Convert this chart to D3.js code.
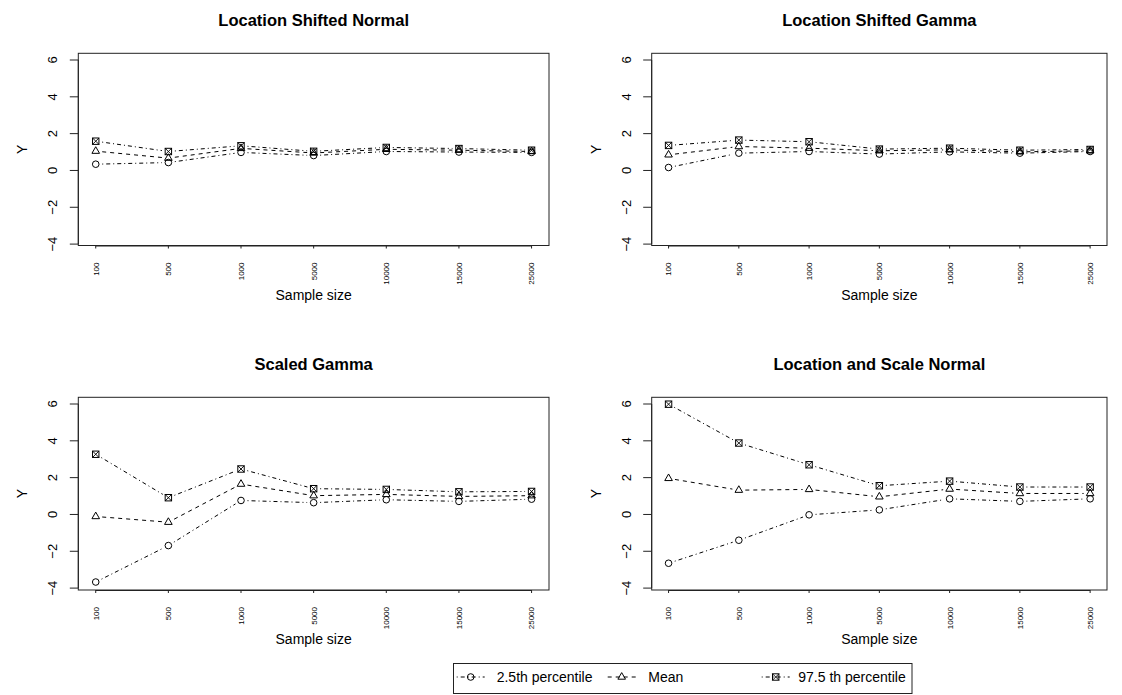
<!DOCTYPE html>
<html>
<head>
<meta charset="utf-8">
<script src="https://cdn.jsdelivr.net/npm/d3@7"></script>
<style>
  body { margin: 0; background: #fff; }
  svg { display: block; font-family: "Liberation Sans", Arial, sans-serif; }
  .box { fill: none; stroke: #222; stroke-width: 1; }
  .tick-line { stroke: #222; stroke-width: 1; }
</style>
</head>
<body>
<div id="chart"></div>
<script>
const W = 1122, H = 695

// x categories (sample sizes)
const sampleSizes = ['100', '500', '1000', '5000', '10000', '15000', '25000']
const yTicks = [-4, -2, 0, 2, 4, 6]

const panelTitles = ['Location Shifted Normal', 'Location Shifted Gamma', 'Scaled Gamma', 'Location and Scale Normal']

// values
const shiftNormalLow  = [0.34, 0.43, 0.98, 0.81, 1.03, 1.00, 0.98]
const shiftNormalMean = [1.05, 0.67, 1.20, 0.95, 1.15, 1.10, 1.03]
const shiftNormalHigh = [1.59, 1.03, 1.34, 1.04, 1.25, 1.19, 1.10]

const shiftGammaLow  = [0.16, 0.94, 1.03, 0.89, 1.01, 0.94, 1.03]
const shiftGammaMean = [0.85, 1.30, 1.21, 1.07, 1.12, 1.01, 1.07]
const shiftGammaHigh = [1.36, 1.65, 1.56, 1.16, 1.21, 1.10, 1.14]

const scaledGammaLow  = [-3.67, -1.69, 0.76, 0.64, 0.80, 0.71, 0.83]
const scaledGammaMean = [-0.11, -0.42, 1.65, 1.02, 1.09, 0.98, 1.02]
const scaledGammaHigh = [3.27, 0.91, 2.47, 1.40, 1.36, 1.23, 1.25]

const locScaleLow  = [-2.65, -1.40, -0.02, 0.25, 0.85, 0.71, 0.85]
const locScaleMean = [1.96, 1.32, 1.36, 0.96, 1.38, 1.14, 1.14]
const locScaleHigh = [5.99, 3.88, 2.70, 1.56, 1.81, 1.49, 1.49]

const seriesNames = ['2.5th percentile', 'Mean', '97.5 th percentile']

const panelData = [
	[shiftNormalLow, shiftNormalMean, shiftNormalHigh],
	[shiftGammaLow, shiftGammaMean, shiftGammaHigh],
	[scaledGammaLow, scaledGammaMean, scaledGammaHigh],
	[locScaleLow, locScaleMean, locScaleHigh]
]

// layout of the 4 plot boxes
const boxes = [
	{ left: 78.3, right: 549, top: 53.3, bottom: 245.5 },
	{ left: 651.7, right: 1107, top: 53.3, bottom: 245.5 },
	{ left: 78.3, right: 549, top: 397.3, bottom: 590 },
	{ left: 651.7, right: 1107, top: 397.3, bottom: 590 }
]

const lineDash = ['1,3,4,3', '4,4', '1,3,4,3']
const GAP = 6.5

const svg = d3.select('#chart').append('svg')
	.attr('width', W)
	.attr('height', H)

function drawSymbol(g, kind, x, y) {
	if (kind == 0) {
		g.append('circle')
			.attr('cx', x).attr('cy', y).attr('r', 3.3)
			.attr('fill', 'none').attr('stroke', '#000').attr('stroke-width', 1)
	} else if (kind == 1) {
		let r = 4.4
		let pts = [[x, y - r], [x + r * Math.sqrt(3) / 2, y + r / 2], [x - r * Math.sqrt(3) / 2, y + r / 2]]
		g.append('polygon')
			.attr('points', pts.map(p => p.join(',')).join(' '))
			.attr('fill', 'none').attr('stroke', '#000').attr('stroke-width', 1)
	} else {
		let s = 3.2
		g.append('rect')
			.attr('x', x - s).attr('y', y - s).attr('width', 2 * s).attr('height', 2 * s)
			.attr('fill', 'none').attr('stroke', '#000').attr('stroke-width', 1)
		g.append('path')
			.attr('d', `M${x - s},${y - s}L${x + s},${y + s}M${x + s},${y - s}L${x - s},${y + s}`)
			.attr('fill', 'none').attr('stroke', '#000').attr('stroke-width', 0.9)
	}
}

boxes.forEach((b, pi) => {
	let g = svg.append('g').attr('id', 'panel_' + pi)

	let x = d3.scalePoint()
		.domain(sampleSizes)
		.range([b.left, b.right])
		.padding(0.24)

	let y = d3.scaleLinear()
		.domain([-4, 6])
		.range([b.top + 190.8, b.top + 6.7])

	// title
	g.append('text')
		.attr('x', (b.left + b.right) / 2)
		.attr('y', b.top - 27.6)
		.attr('text-anchor', 'middle')
		.attr('font-weight', 'bold')
		.attr('font-size', 16.5)
		.text(panelTitles[pi])

	// y axis: ticks + rotated labels
	let ya = g.append('g')
	ya.append('line').attr('class', 'tick-line')
		.attr('x1', b.left).attr('x2', b.left)
		.attr('y1', y(-4)).attr('y2', y(6))
	yTicks.forEach(t => {
		ya.append('line').attr('class', 'tick-line')
			.attr('x1', b.left - 8.5).attr('x2', b.left)
			.attr('y1', y(t)).attr('y2', y(t))
		ya.append('text')
			.attr('transform', `translate(${b.left - 21},${y(t)}) rotate(-90)`)
			.attr('text-anchor', 'middle')
			.attr('font-size', 13)
			.text(t < 0 ? '\u2212' + Math.abs(t) : t)
	})
	g.append('text')
		.attr('transform', `translate(${b.left - 51},${(b.top + b.bottom) / 2}) rotate(-90)`)
		.attr('text-anchor', 'middle')
		.attr('font-size', 14)
		.text('Y')

	// x axis: short ticks + vertical labels
	let xa = g.append('g')
	xa.append('line').attr('class', 'tick-line')
		.attr('x1', x(sampleSizes[0])).attr('x2', x(sampleSizes[sampleSizes.length - 1]))
		.attr('y1', b.bottom + 0.5).attr('y2', b.bottom + 0.5)
	sampleSizes.forEach(s => {
		xa.append('line').attr('class', 'tick-line')
			.attr('x1', x(s)).attr('x2', x(s))
			.attr('y1', b.bottom).attr('y2', b.bottom + 3)
		xa.append('text')
			.attr('transform', `translate(${x(s) + 2.9},${b.bottom + 17}) rotate(-90)`)
			.attr('text-anchor', 'end')
			.attr('font-size', 8)
			.text(s)
	})
	g.append('text')
		.attr('x', (b.left + b.right) / 2)
		.attr('y', b.bottom + 54)
		.attr('text-anchor', 'middle')
		.attr('font-size', 14)
		.text('Sample size')

	// plot box
	g.append('rect').attr('class', 'box')
		.attr('x', b.left).attr('y', b.top)
		.attr('width', b.right - b.left).attr('height', b.bottom - b.top)

	// series: type "b" (segments with gaps round the points)
	panelData[pi].forEach((vals, si) => {
		let pts = vals.map((v, i) => [x(sampleSizes[i]), y(v)])
		let lg = g.append('g')
		for (let i = 0; i < pts.length - 1; i++) {
			let [x1, y1] = pts[i], [x2, y2] = pts[i + 1]
			let d = Math.hypot(x2 - x1, y2 - y1)
			if (d <= 2 * GAP) continue
			let ux = (x2 - x1) / d, uy = (y2 - y1) / d
			lg.append('line')
				.attr('x1', x1 + ux * GAP).attr('y1', y1 + uy * GAP)
				.attr('x2', x2 - ux * GAP).attr('y2', y2 - uy * GAP)
				.attr('stroke', '#000').attr('stroke-width', 1)
				.attr('stroke-dasharray', lineDash[si])
		}
		pts.forEach(p => drawSymbol(lg, si, p[0], p[1]))
	})
})

// legend
const legBox = { left: 453.5, right: 912, top: 663.5, bottom: 693.5 }
const legSym = [470.7, 621.7, 775.7]
const legText = [496.7, 648.3, 798.3]
const legY = 677

let lg = svg.append('g').attr('id', 'legend')
lg.append('rect')
	.attr('x', legBox.left).attr('y', legBox.top)
	.attr('width', legBox.right - legBox.left).attr('height', legBox.bottom - legBox.top)
	.attr('fill', '#fff').attr('stroke', '#222').attr('stroke-width', 1)

seriesNames.forEach((name, i) => {
	lg.append('line')
		.attr('x1', legSym[i] - 14).attr('x2', legSym[i] + 14)
		.attr('y1', legY).attr('y2', legY)
		.attr('stroke', '#000').attr('stroke-width', 1)
		.attr('stroke-dasharray', lineDash[i])
	drawSymbol(lg, i, legSym[i], legY)
	lg.append('text')
		.attr('x', legText[i])
		.attr('y', legY + 5)
		.attr('font-size', 14)
		.text(name)
})
</script>
</body>
</html>
